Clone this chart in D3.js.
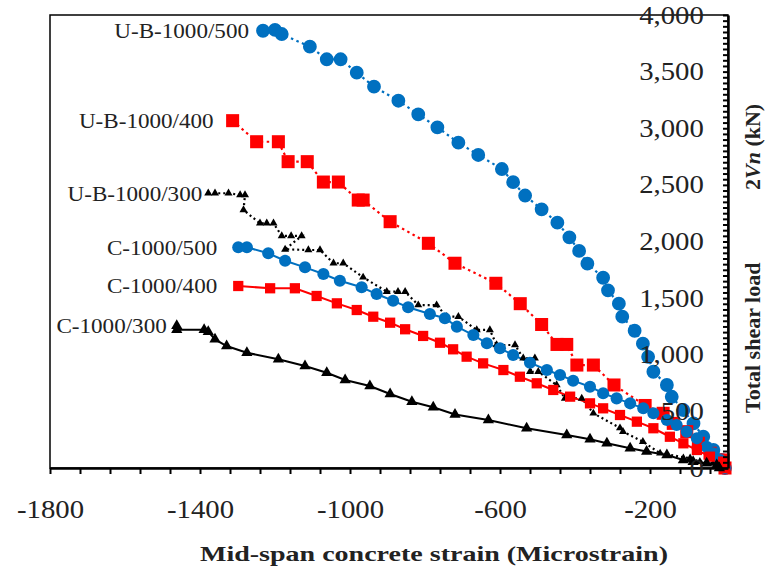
<!DOCTYPE html>
<html>
<head>
<meta charset="utf-8">
<script src="https://cdn.jsdelivr.net/npm/d3@7"></script>
<style>
  body { margin: 0; background: #fff; }
  svg { display: block; font-family: "Liberation Serif", "Times New Roman", serif; }
</style>
</head>
<body>
<svg id="chart" width="771" height="573"></svg>
<script>
// each point: [mid-span strain (microstrain), total shear load 2Vn (kN)]
const ub500 = [[-1232,3861],[-1200,3868],[-1182,3832],[-1107,3720],[-1062,3609],[-1025,3609],[-982,3491],[-936,3367],
  [-871,3243],[-818,3123],[-767,3008],[-711,2873],[-658,2764],[-595,2640],[-565,2524],[-533,2406],[-489,2284],
  [-447,2166],[-415,2037],[-389,1917],[-367,1804],[-325,1680],[-312,1569],[-283,1451],[-274,1336],[-241,1212],
  [-219,1098],[-205,982],[-191,850],[-155,733],[-142,629],[-111,512],[-84,394],[-58,276],[-31,159],[-9,71],[0,0]];
const ub400 = [[-1313,3067],[-1249,2881],[-1191,2881],[-1165,2705],[-1114,2705],[-1071,2525],[-1031,2525],[-978,2366],
  [-965,2366],[-893,2175],[-791,1984],[-720,1808],[-611,1631],[-546,1451],[-489,1267],[-448,1091],[-422,1091],
  [-395,909],[-351,909],[-296,733],[-213,552],[-165,483],[-138,394],[-102,321],[-71,218],[-40,130],[-5,71],[0,0]];
const ub300 = [[-1378,2426],[-1360,2426],[-1324,2426],[-1293,2411],[-1280,2411],[-1284,2278],[-1240,2161],[-1222,2161],
  [-1204,2161],[-1182,2049],[-1157,2049],[-1129,2049],[-1173,1931],[-1111,1925],[-1080,1925],[-1044,1808],
  [-1018,1808],[-965,1684],[-902,1557],[-872,1557],[-853,1557],[-818,1439],[-769,1439],[-742,1336],[-711,1336],
  [-662,1219],[-627,1219],[-609,1086],[-560,1086],[-538,969],[-507,969],[-520,850],[-498,850],[-449,733],
  [-427,615],[-382,615],[-351,483],[-280,353],[-272,321],[-219,232],[-173,130],[-93,86],[-67,56],[-31,42],[0,0]];
const c500 = [[-1298,1949],[-1275,1949],[-1218,1896],[-1173,1830],[-1120,1772],[-1071,1713],[-1027,1654],[-969,1596],
  [-929,1536],[-885,1477],[-845,1419],[-787,1360],[-747,1322],[-715,1248],[-671,1174],[-635,1101],[-600,1057],
  [-565,998],[-520,930],[-475,865],[-440,821],[-405,771],[-360,718],[-325,660],[-289,615],[-253,571],[-218,527],
  [-191,483],[-155,424],[-129,380],[-102,321],[-75,262],[-49,188],[-31,130],[-13,71],[0,0]];
const c400 = [[-1298,1607],[-1213,1587],[-1147,1587],[-1089,1519],[-1035,1454],[-982,1395],[-938,1336],[-893,1283],
  [-853,1225],[-805,1166],[-760,1106],[-725,1048],[-689,983],[-645,924],[-591,865],[-547,806],[-502,748],
  [-458,689],[-413,630],[-360,571],[-325,527],[-280,468],[-235,409],[-191,351],[-147,276],[-111,218],[-75,159],
  [-40,100],[-5,56],[0,0]];
const c300 = [[-1462,1255],[-1462,1220],[-1389,1220],[-1378,1204],[-1360,1136],[-1329,1077],[-1275,1018],[-1191,960],
  [-1120,901],[-1062,841],[-1013,777],[-947,724],[-893,653],[-835,585],[-778,536],[-720,472],[-631,424],
  [-529,351],[-422,291],[-360,253],[-315,218],[-253,174],[-209,145],[-155,115],[-111,71],[-85,56],[-49,42],
  [-22,26],[-15,0]];

const seriesNames = ["U-B-1000/500", "U-B-1000/400", "U-B-1000/300", "C-1000/500", "C-1000/400", "C-1000/300"];
const xLabelTicks = [-1800, -1400, -1000, -600, -200];
const yLabelTicks = [0, 500, 1000, 1500, 2000, 2500, 3000, 3500, 4000];

// drawing options per series
const series = [
  { name: seriesNames[0], data: ub500, color: "#0070c0", shape: d3.symbolCircle, size: 150, dash: "2.5,3.5", gap: 14 },
  { name: seriesNames[1], data: ub400, color: "#ff0000", shape: d3.symbolSquare, size: 170, dash: "2.5,3.5", gap: 19 },
  { name: seriesNames[2], data: ub300, color: "#000000", shape: d3.symbolTriangle, size: 28, dash: "2,3", gap: 6 },
  { name: seriesNames[3], data: c500, color: "#0070c0", shape: d3.symbolCircle, size: 115, dash: null, gap: 21 },
  { name: seriesNames[4], data: c400, color: "#ff0000", shape: d3.symbolSquare, size: 105, dash: null, gap: 21 },
  { name: seriesNames[5], data: c300, color: "#000000", shape: d3.symbolTriangle, size: 55, dash: null, gap: 10 }
];

const svg = d3.select("#chart");
const x = d3.scaleLinear().domain([-1800, 8]).range([50, 728]);
const y = d3.scaleLinear().domain([0, 4000]).range([468, 15]);

// plot frame
svg.append("rect")
  .attr("x", 50).attr("y", 15)
  .attr("width", 678).attr("height", 453)
  .attr("fill", "none").attr("stroke", "#000").attr("stroke-width", 1.5);

let line = d3.line().x(d => x(d[0])).y(d => y(d[1]));

// lines first, then markers on top
series.forEach(s => {
  svg.append("path")
    .datum(s.data)
    .attr("d", line)
    .attr("fill", "none")
    .attr("stroke", s.color)
    .attr("stroke-width", s.dash ? 2.2 : 2)
    .attr("stroke-dasharray", s.dash);
});
series.forEach(s => {
  svg.append("g").selectAll("path")
    .data(s.data)
    .join("path")
    .attr("transform", d => "translate(" + x(d[0]) + "," + y(d[1]) + ")")
    .attr("d", d3.symbol().type(s.shape).size(s.size))
    .attr("fill", s.color);
});

// bottom axis: minor ticks every 80, labels every 400
let xTicks = svg.append("g")
  .attr("transform", "translate(0,468)")
  .call(d3.axisBottom(x).tickValues(d3.range(-1800, 0, 80)).tickSize(6).tickSizeOuter(0).tickFormat(""));
xTicks.select(".domain").attr("stroke-width", 2.5);
xTicks.selectAll(".tick line").attr("stroke-width", 2);

let xLabels = svg.append("g")
  .attr("transform", "translate(0,468)")
  .call(d3.axisBottom(x).tickValues(xLabelTicks).tickSize(0).tickPadding(32).tickFormat(d => String(d)));
xLabels.select(".domain").remove();
xLabels.selectAll("text")
  .attr("font-family", "Liberation Serif, Times New Roman, serif")
  .attr("font-size", 25)
  .attr("fill", "#222")
  .attr("transform", "scale(1.15,1)");

// right axis (ticks point into the plot)
let yTicks = svg.append("g")
  .attr("transform", "translate(728,0)")
  .call(d3.axisLeft(y).tickValues(d3.range(0, 4001, 50)).tickSize(5).tickSizeOuter(0).tickFormat(""));
yTicks.select(".domain").attr("stroke-width", 2.5);
yTicks.selectAll(".tick line").attr("stroke-width", 2);

let yLabels = svg.append("g")
  .attr("transform", "translate(728,0)")
  .call(d3.axisLeft(y).tickValues(yLabelTicks).tickSize(0).tickPadding(21).tickFormat(d3.format(",")));
yLabels.select(".domain").remove();
yLabels.selectAll("text")
  .attr("font-family", "Liberation Serif, Times New Roman, serif")
  .attr("font-size", 25)
  .attr("fill", "#222")
  .attr("transform", "scale(1.15,1)");

// series names next to first point
series.forEach(s => {
  let p = s.data[0];
  svg.append("text")
    .attr("transform", "translate(" + (x(p[0]) - s.gap) + "," + y(p[1]) + ") scale(1.1,1)")
    .attr("text-anchor", "end")
    .attr("dy", "0.35em")
    .attr("font-size", 21)
    .attr("fill", "#222")
    .text(s.name);
});

// axis titles
svg.append("text")
  .attr("x", 434).attr("y", 561)
  .attr("text-anchor", "middle")
  .attr("font-size", 22)
  .attr("font-weight", "bold")
  .attr("fill", "#222")
  .attr("textLength", 468)
  .attr("lengthAdjust", "spacingAndGlyphs")
  .text("Mid-span concrete strain (Microstrain)");

let yTitle = svg.append("text")
  .attr("transform", "translate(760,413) rotate(-90)")
  .attr("font-size", 22)
  .attr("font-weight", "bold")
  .attr("fill", "#222");
yTitle.append("tspan").text("Total shear load");
yTitle.append("tspan").attr("x", 223).text("2");
yTitle.append("tspan").attr("font-style", "italic").text("Vn");
yTitle.append("tspan").text(" (kN)");
</script>
</body>
</html>
